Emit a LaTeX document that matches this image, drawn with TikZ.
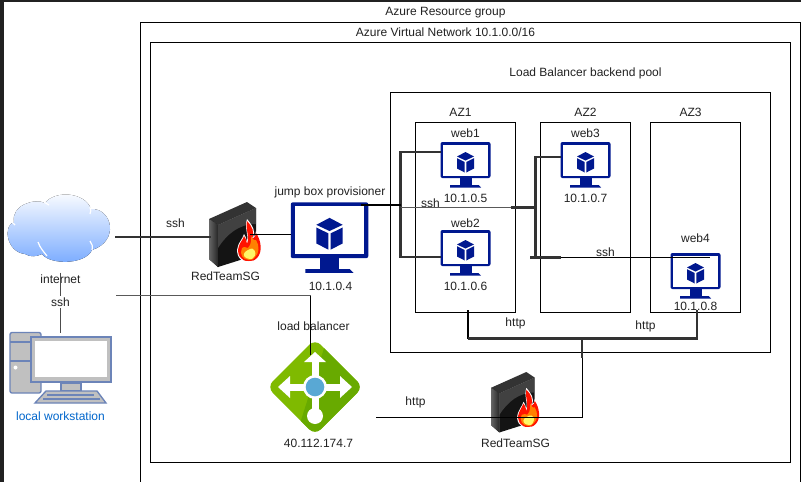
\documentclass[tikz,border=0pt]{standalone}
\usepackage{fontspec}
\setmainfont{Liberation Sans}
\definecolor{vmblue}{HTML}{00188F}
\definecolor{gline}{HTML}{333333}
\definecolor{wsline}{HTML}{6C84B8}
\definecolor{wsgray}{HTML}{C0C0C0}
\definecolor{labeltxt}{HTML}{222222}
\definecolor{lbgreen}{HTML}{7FBA00}
\definecolor{lbdark}{HTML}{68AA00}
\definecolor{lbblue}{HTML}{59A8D4}
\definecolor{cloudblue}{HTML}{78AAFF}
\definecolor{wstext}{HTML}{0066CC}
\tikzset{
  box/.style={draw=black,line width=0.75pt,fill=none},
  lbl/.style={text=labeltxt,font=\fontsize{9}{11}\selectfont,inner sep=0pt},
  thinline/.style={draw=black,line width=0.75pt},
  heavy/.style={draw=gline,line width=1.7pt},
  heavyk/.style={draw=black,line width=1.7pt},
  pics/vm/.style={code={
    \fill[vmblue,rounded corners=1.5] (-25,-23) rectangle (25,13);
    \fill[white] (-22.5,-20.5) rectangle (22.5,10.5);
    \fill[vmblue] (-6,13) rectangle (6,20);
    \fill[vmblue] (-15.5,20) -- (-13,20) -- (13,20) -- (15.5,22.5) -- (-15.5,22.5) -- cycle;
    \fill[vmblue] (0,-13) -- (8.5,-8.5) -- (0,-4.5) -- (-8.5,-8.5) -- cycle;
    \fill[vmblue] (-8.5,-6.8) -- (-0.8,-3) -- (-0.8,7.5) -- (-8.5,3.5) -- cycle;
    \fill[vmblue] (8.5,-6.8) -- (0.8,-3) -- (0.8,7.5) -- (8.5,3.5) -- cycle;
  }},
  pics/firewall/.style={code={
    \fill[black!80!white] (0,17) -- (38,0) -- (47,6) -- (9,23) -- cycle;
    \fill[left color=black!60!white,right color=black!85!white] (0,17) -- (9,23) -- (9,65) -- (0,57) -- cycle;
    \fill[black!92!white] (9,23) -- (47,6) -- (47,53) -- (9,65) -- cycle;
    \fill[black!60!white,opacity=.55] (9,23) -- (47,6) -- (47,22) .. controls (30,22) and (18,32) .. (9,46) -- cycle;
    \fill[white] (40,60) .. controls (31,61) and (26,52) .. (29,44) .. controls (30,40) and (33,38) .. (35,32) .. controls (38,36) and (37,39) .. (38,40) .. controls (40,33) and (35,26) .. (38,17) .. controls (44,24) and (47,30) .. (44,35) .. controls (46,34) and (47,32) .. (47,29) .. controls (53,38) and (55,50) .. (49,56) .. controls (46,60) and (43,60) .. (40,60) -- cycle;
    \fill[red!85!orange] (40,59) .. controls (32,60) and (27,52) .. (30,44) .. controls (31,40) and (34,38) .. (35,34) .. controls (38,38) and (37,40) .. (38,42) .. controls (41,34) and (36,26) .. (38,19) .. controls (43,24) and (46,30) .. (43,37) .. controls (46,35) and (47,33) .. (47,31) .. controls (52,38) and (54,50) .. (48,56) .. controls (45,59) and (43,59) .. (40,59) -- cycle;
    \fill[orange] (40,58) .. controls (34,58) and (30,52) .. (33,46) .. controls (36,44) and (37,46) .. (39,46) .. controls (43,42) and (42,36) .. (42,34) .. controls (45,40) and (47,38) .. (47,38) .. controls (51,44) and (50,52) .. (46,55) .. controls (44,58) and (42,58) .. (40,58) -- cycle;
    \fill[yellow!60!white] (41,57) .. controls (36,57) and (33,53) .. (36,50) .. controls (40,47) and (43,46) .. (44,47) .. controls (47,49) and (47,53) .. (45,55) .. controls (44,57) and (42,57) .. (41,57) -- cycle;
  }},
  pics/azurelb/.style={code={
    \fill[lbgreen,rounded corners=6] (0,-48) -- (48,0) -- (0,48) -- (-48,0) -- cycle;
    \begin{scope}
      \clip[rounded corners=6] (0,-48) -- (48,0) -- (0,48) -- (-48,0) -- cycle;
      \fill[lbdark] (12,-48) -- (52,-48) -- (52,52) -- (-20,52) -- cycle;
    \end{scope}
    \fill[white] (-3.5,-28) rectangle (3.5,22);
    \fill[white] (-28,-3.5) rectangle (28,3.5);
    \fill[white] (0,-35) -- (11,-25) -- (-11,-25) -- cycle;
    \fill[white] (-37,0) -- (-25,-11) -- (-25,11) -- cycle;
    \fill[white] (37,0) -- (25,-11) -- (25,11) -- cycle;
    \fill[white] (0,29) circle (8);
    \fill[white] (0,0) circle (12);
    \fill[lbblue] (0,0) circle (9.3);
  }},
}
\begin{document}
\begin{tikzpicture}[x=0.75pt,y=-0.75pt]
\useasboundingbox (0,0) rectangle (801,482);
\clip (0,0) rectangle (801,482);
\fill[white] (0,0) rectangle (801,482);
\fill[black!87!white] (0,0) rectangle (3.5,482);
\fill[black!87!white] (0,0) rectangle (801,1.8);

% containers
\draw[box] (140.5,22.5) rectangle (800.5,500);
\draw[box] (150.5,42.5) rectangle (790.5,462.5);
\draw[box] (390.5,92.5) rectangle (770.5,352.5);
\draw[box] (415.5,122.5) rectangle (515.5,312.5);
\draw[box] (540.5,122.5) rectangle (630.5,312.5);
\draw[box] (650.5,122.5) rectangle (740.5,312.5);

% texts
\node[lbl] (trg) at (445.5,13) {Azure Resource group};
\node[lbl] (tvn) at (445.5,32.5) {Azure Virtual Network 10.1.0.0/16};
\node[lbl] (tpool) at (585.5,73) {Load Balancer backend pool};
\node[lbl] (taz1) at (460.5,112.5) {AZ1};
\node[lbl] (taz2) at (585.5,112.5) {AZ2};
\node[lbl] (taz3) at (690.5,112.5) {AZ3};
\node[lbl] (tw1) at (465.5,133) {web1};
\node[lbl] (tw2) at (465.5,223) {web2};
\node[lbl] (tw3) at (585.5,133) {web3};
\node[lbl] (tw4) at (695.5,238) {web4};
\node[lbl] (ip5) at (465.5,198) {10.1.0.5};
\node[lbl] (ip6) at (465.5,286) {10.1.0.6};
\node[lbl] (ip7) at (585.5,198) {10.1.0.7};
\node[lbl] (ip8) at (695.5,306) {10.1.0.8};
\node[lbl] (ip4) at (330.5,286) {10.1.0.4};
\node[lbl] (tjump) at (330,192.5) {jump box provisioner};
\node[lbl] (tlb) at (313.5,326) {load balancer};
\node[lbl] (iplb) at (318.5,443) {40.112.174.7};
\node[lbl] (fw1t) at (225.5,276) {RedTeamSG};
\node[lbl] (fw2t) at (515.5,443) {RedTeamSG};
\node[lbl] (tssh1) at (175.5,223) {ssh};
\node[lbl] (tssh3) at (430.5,203) {ssh};
\node[lbl] (tssh4) at (605.5,252) {ssh};
\node[lbl] (thttp1) at (515.5,323) {http};
\node[lbl] (thttp2) at (645.5,326) {http};
\node[lbl] (thttp3) at (415.5,402.5) {http};
\node[lbl] (tinet) at (60.5,279) {internet};
\node[lbl,text=wstext] (tws) at (60.5,416) {local workstation};

% icons
\pic at (465.5,165) {vm};
\pic at (465.5,253) {vm};
\pic at (585.5,165) {vm};
\pic at (695.5,276) {vm};
\pic[scale=1.55] at (329.5,238) {vm};
\pic[scale=1] at (209,202) {firewall};
\pic[scale=0.93] at (491,372) {firewall};
\pic at (315,387) {azurelb};

% cloud
\fill[top color=white,bottom color=cloudblue,draw=none]
  (25,254) .. controls (6,252) and (3,225) .. (14,222)
  .. controls (11,205) and (35,198) .. (45,203)
  .. controls (55,190) and (85,192) .. (91,209)
  .. controls (112,208) and (120,241) .. (92,250)
  .. controls (85,265) and (50,265) .. (42,254)
  .. controls (36,257) and (30,257) .. (25,254) -- cycle;
\draw[white,line width=0.9pt] (38,242) .. controls (40,248) and (44,252) .. (47,256);
\draw[white,line width=0.9pt] (92,250) .. controls (93,246) and (92,244) .. (90,241);
\draw[white,line width=0.9pt] (90,207) .. controls (91,210) and (91,212) .. (90,214);
\draw[white,line width=0.9pt] (12,222) -- (15,225);
\draw[white,line width=0.9pt] (44,202) -- (49,205);

% workstation
\begin{scope}[draw=wsline,line width=1pt]
  \filldraw[fill=wsgray,rounded corners=1.5] (10,332.5) rectangle (41,393);
  \draw (10,342) -- (41,342);
  \draw (10,361) -- (41,361);
  \fill[white] (15.5,367.5) circle (2);
  \filldraw[fill=wsgray] (61,383) rectangle (81,391);
  \filldraw[fill=wsgray] (35,403) -- (46,391) -- (97,391) -- (106,403) -- cycle;
  \filldraw[fill=wsgray] (31,337) rectangle (111,382);
  \fill[white] (34.5,341) rectangle (107,377);
  \draw[line width=1.2pt] (47,395) -- (94,395);
  \draw[line width=1.2pt] (43,399) -- (100,399);
\end{scope}

% named junctions for the connectors
\coordinate (inetA) at (115,237);
\coordinate (fwA) at (211,237);
\coordinate (fwB) at (250,234);
\coordinate (jumpW) at (291,234);
\coordinate (inetB) at (116,295.5);
\coordinate (inetBc) at (310.5,295.5);
\coordinate (lbTop) at (310.5,355);
\coordinate (inetC) at (60.5,272.5);
\coordinate (wsTop) at (60.5,333);
\coordinate (jumpR) at (361,205);
\coordinate (hubL) at (400.5,205);
\coordinate (hubLa) at (400.5,207.5);
\coordinate (w1W) at (441,152);
\coordinate (w2W) at (441,257);
\coordinate (hubLt) at (400.5,152);
\coordinate (hubLb) at (400.5,257);
\coordinate (hubRa) at (510.5,207.5);
\coordinate (hubR) at (535.5,207.5);
\coordinate (w3W) at (561,157);
\coordinate (hubRt) at (535.5,157);
\coordinate (hubRb) at (535.5,257.5);
\coordinate (stubA) at (530,257.5);
\coordinate (stubB) at (560.5,257.5);
\coordinate (w4In) at (710,257.5);
\coordinate (az1B) at (468,310);
\coordinate (az1Bc) at (468,338.5);
\coordinate (az4Bc) at (697,338.5);
\coordinate (az4B) at (697,310);
\coordinate (midA) at (582,338.5);
\coordinate (midB) at (582,358);
\coordinate (midC) at (582,417.5);
\coordinate (lbR) at (375.5,417.5);

% connectors
\draw[heavy] (inetA) -- (fwA);
\draw[thinline] (fwB) -- (jumpW);
\draw[draw=black!65!white,line width=1.1pt] (inetB) -- (inetBc);
\draw[thinline] (inetBc) -- (lbTop);
\draw[draw=black!70!white,line width=1pt] (inetC) -- (wsTop);
\node[lbl,fill=white,inner sep=1.5pt] (tssh2) at (60.5,302) {ssh};
\draw[heavy] (w1W) -- (hubLt) -- (hubLb) -- (w2W);
\draw[heavyk] (jumpR) -- (hubL);
\draw[draw=black!65!white,line width=1pt] (hubLa) -- (hubRa);
\draw[heavy] (hubRa) -- (hubR);
\draw[heavy] (w3W) -- (hubRt) -- (hubRb);
\draw[heavy] (stubA) -- (stubB);
\draw[thinline] (stubB) -- (w4In);
\draw[heavyk] (az1B) -- (az1Bc);
\draw[heavy] (az1Bc) -- (az4Bc) -- (az4B);
\draw[heavy] (midA) -- (midB);
\draw[thinline] (midB) -- (midC) -- (lbR);
\end{tikzpicture}
\end{document}
